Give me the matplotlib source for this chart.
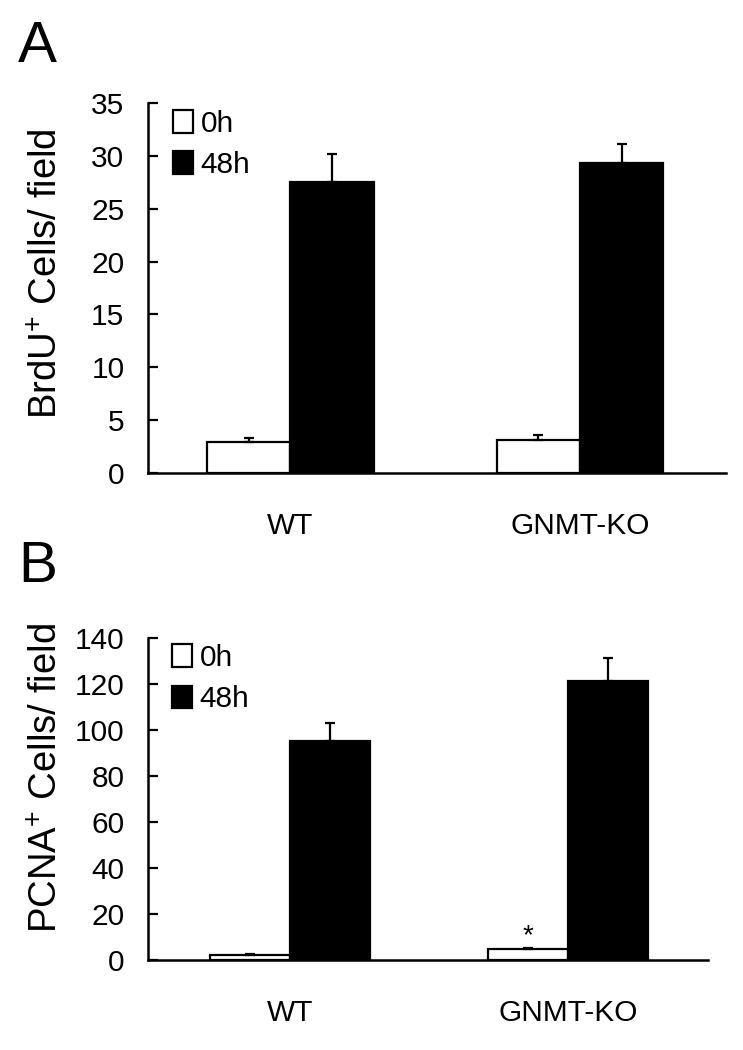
import matplotlib
matplotlib.use("Agg")
import matplotlib.pyplot as plt
import numpy as np

plt.rcParams['mathtext.fontset'] = 'custom'
plt.rcParams['mathtext.rm'] = 'Liberation Sans'

groups = ['WT', 'GNMT-KO']
series = ['0h', '48h']

# panel A, BrdU+ cells
brdu_0h = [2.9, 3.1]
brdu_0h_err = [0.45, 0.45]
brdu_48h = [27.5, 29.3]
brdu_48h_err = [2.7, 1.8]

# panel B, PCNA+ cells
pcna_0h = [2.2, 4.8]
pcna_0h_err = [0.3, 0.4]
pcna_48h = [95.0, 121.4]
pcna_48h_err = [8.1, 10.1]
pcna_0h_sig = [False, True]

font = ['Liberation Sans', 'DejaVu Sans']
small = 21.5

fig = plt.figure(figsize=(7.43, 10.5), dpi=100)
axA = fig.add_axes([0.1992, 0.5495, 0.7779, 0.3524])
axB = fig.add_axes([0.1992, 0.0857, 0.7537, 0.3067])


def panel(ax, v0, e0, v1, e1, w, xlim, ylim, yticks, sig=None):
    x = np.arange(len(groups))
    ax.bar(x - w / 2, v0, w, color='white', edgecolor='black', linewidth=1.6,
           label=series[0], zorder=2)
    ax.bar(x + w / 2, v1, w, color='black', edgecolor='black', linewidth=1.6,
           label=series[1], zorder=2)
    ax.errorbar(x - w / 2, v0, yerr=[np.zeros(len(v0)), e0], fmt='none',
                ecolor='black', elinewidth=1.6, capsize=3.6, capthick=1.6, zorder=3)
    ax.errorbar(x + w / 2, v1, yerr=[np.zeros(len(v1)), e1], fmt='none',
                ecolor='black', elinewidth=1.6, capsize=3.6, capthick=1.6, zorder=3)
    if sig is not None:
        for i, s in enumerate(sig):
            if s:
                ax.annotate('*', (x[i] - w / 2, v0[i] + e0[i]), xytext=(0, -1),
                            textcoords='offset points', ha='center', va='bottom',
                            fontsize=20, family=font)
    ax.set_xlim(*xlim)
    ax.set_ylim(*ylim)
    ax.set_yticks(yticks)
    ax.set_xticks(x)
    ax.set_xticklabels(groups, family=font, fontsize=small)
    for lab in ax.get_yticklabels():
        lab.set_family(font)
        lab.set_fontsize(small)
    ax.tick_params(axis='y', direction='in', length=7, width=1.6, pad=17)
    ax.tick_params(axis='x', length=0, pad=28)
    for s in ['top', 'right']:
        ax.spines[s].set_visible(False)
    for s in ['left', 'bottom']:
        ax.spines[s].set_linewidth(1.8)
    ax.legend(loc='upper left', bbox_to_anchor=(0.043, 0.982), frameon=False,
              prop={'family': font, 'size': small}, handlelength=0.68,
              handleheight=0.78, handletextpad=0.25, labelspacing=0.45,
              borderpad=0, borderaxespad=0)


panel(axA, brdu_0h, brdu_0h_err, brdu_48h, brdu_48h_err, 0.287,
      (-0.492, 1.504), (0, 35), np.arange(0, 36, 5))
panel(axB, pcna_0h, pcna_0h_err, pcna_48h, pcna_48h_err, 0.288,
      (-0.511, 1.504), (0, 140), np.arange(0, 141, 20), sig=pcna_0h_sig)

fig.text(47 / 743, 1 - 274 / 1050, r'BrdU$^{+}$ Cells/ field', rotation=90,
         ha='center', va='center', fontsize=27.5, family=font)
fig.text(47 / 743, 1 - 778 / 1050, r'PCNA$^{+}$ Cells/ field', rotation=90,
         ha='center', va='center', fontsize=27.5, family=font)

fig.text(18 / 743, 1 - 62 / 1050, 'A', fontsize=42, family=font,
         ha='left', va='baseline')
fig.text(18 / 743, 1 - 582 / 1050, 'B', fontsize=42, family=font,
         ha='left', va='baseline')

fig.savefig('out.png', dpi=100)
